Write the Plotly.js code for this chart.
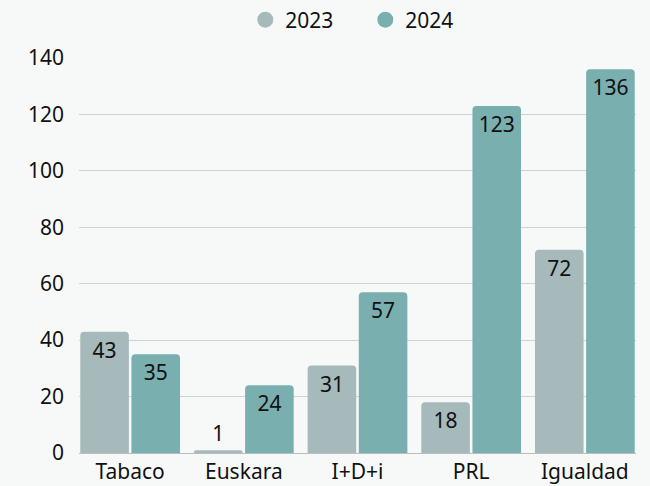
<!DOCTYPE html>
<html>
<head>
<meta charset="utf-8">
<script src="https://cdn.plot.ly/plotly-3.0.1.min.js"></script>
<style>html,body{margin:0;padding:0;background:#f7f9f9;}#chart{width:650px;height:486px;}</style>
</head>
<body>
<div id="chart"></div>
<script>
const categories = ["Tabaco", "Euskara", "I+D+i", "PRL", "Igualdad"];
const values2023 = [43, 1, 31, 18, 72];
const values2024 = [35, 24, 57, 123, 136];
const seriesNames = ["2023", "2024"];
const colors = ["#a6b9bb", "#7aafb0"];
const yTicks = [0, 20, 40, 60, 80, 100, 120, 140];

const FONT = "'Noto Sans', 'Open Sans', sans-serif";
const FS = 21;
const pos = v => v.map(x => x < 8 ? "outside" : "inside");

function barTrace(vals, i) {
  return {
    type: "bar", x: categories, y: vals, name: seriesNames[i],
    marker: {color: colors[i]},
    text: vals.map(String), textposition: pos(vals),
    insidetextanchor: "end",
    insidetextfont: {color: "#111", size: FS, family: FONT},
    outsidetextfont: {color: "#111", size: FS, family: FONT},
    textangle: 0, cliponaxis: false,
    showlegend: false, hoverinfo: "skip"
  };
}
function legendTrace(i) {
  return {
    type: "scatter", mode: "markers", x: [null], y: [null], name: seriesNames[i],
    marker: {color: colors[i], size: 20, symbol: "circle"}, showlegend: true
  };
}

const data = [barTrace(values2023, 0), barTrace(values2024, 1), legendTrace(0), legendTrace(1)];

const layout = {
  width: 650, height: 486,
  paper_bgcolor: "#f7f9f9", plot_bgcolor: "#f7f9f9",
  font: {family: FONT, size: FS, color: "#111"},
  margin: {l: 79, r: 14, t: 58, b: 33, pad: 0},
  barmode: "group", bargap: 0.1, bargroupgap: 0.05, barcornerradius: 4,
  xaxis: {
    type: "category", range: [-0.45, 4.45], showgrid: false,
    showline: false, zeroline: false, ticks: "", ticklabelstandoff: 4,
    tickfont: {size: FS, color: "#111"}
  },
  yaxis: {
    range: [0, 140], tickvals: yTicks, showgrid: true, gridcolor: "#cdd2d2", gridwidth: 1,
    zeroline: true, zerolinecolor: "#b9bebe", zerolinewidth: 1,
    showline: false, ticks: "", ticklabelstandoff: 14,
    tickfont: {size: FS, color: "#111"}
  },
  legend: {
    orientation: "h", x: 0.562, xanchor: "center", xref: "container",
    y: 1 - 20 / 486, yanchor: "middle", yref: "container",
    font: {size: FS, color: "#111"}, itemsizing: "trace", bgcolor: "rgba(0,0,0,0)",
    entrywidth: 75
  },
  showlegend: true
};

Plotly.newPlot("chart", data, layout, {displayModeBar: false, staticPlot: true});
</script>
</body>
</html>
